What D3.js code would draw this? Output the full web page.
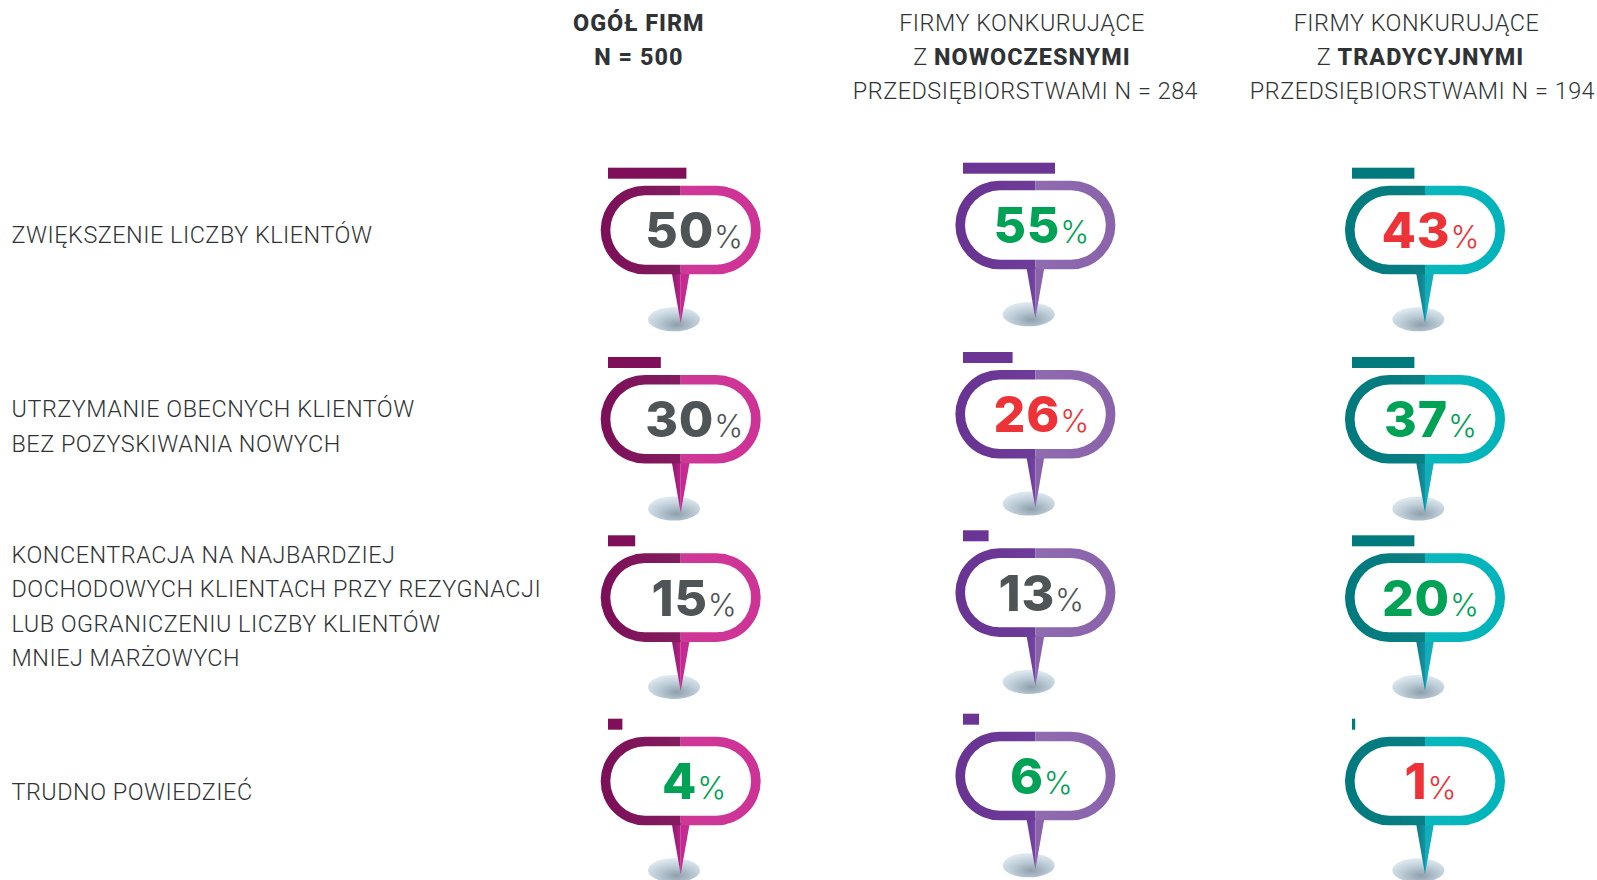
<!DOCTYPE html>
<html lang="pl">
<head>
<meta charset="utf-8">
<title>Ogół firm</title>
<script src="https://cdn.jsdelivr.net/npm/d3@7/dist/d3.min.js"></script>
<style>
html,body{margin:0;padding:0;background:#fff;overflow:hidden}
svg{display:block}
text{font-family:Roboto,Lato,sans-serif}
</style>
</head>
<body>
<script>
// ---------- data ----------
const categories = [
  ["ZWIĘKSZENIE LICZBY KLIENTÓW"],
  ["UTRZYMANIE OBECNYCH KLIENTÓW", "BEZ POZYSKIWANIA NOWYCH"],
  ["KONCENTRACJA NA NAJBARDZIEJ", "DOCHODOWYCH KLIENTACH PRZY REZYGNACJI", "LUB OGRANICZENIU LICZBY KLIENTÓW", "MNIEJ MARŻOWYCH"],
  ["TRUDNO POWIEDZIEĆ"]
];
const headerOgol = [[["OGÓŁ FIRM", 1]], [["N = 500", 1]]];
const headerNowoczesne = [[["FIRMY KONKURUJĄCE", 0]], [["Z ", 0], ["NOWOCZESNYMI", 1]], [["PRZEDSIĘBIORSTWAMI N = 284", 0]]];
const headerTradycyjne = [[["FIRMY KONKURUJĄCE", 0]], [["Z ", 0], ["TRADYCYJNYMI", 1]], [["PRZEDSIĘBIORSTWAMI N = 194", 0]]];

const valuesOgol = [50, 30, 15, 4];
const valuesNowoczesne = [55, 26, 13, 6];
const valuesTradycyjne = [43, 37, 20, 1];

// lengths of the small bars as drawn in the picture (on the pin's 0-100 width)
const barsOgol = [49, 33, 17, 9];
const barsNowoczesne = [57.5, 31, 16, 10];
const barsTradycyjne = [39, 39, 39, 2];

// number highlight class per cell
const toneOgol = ["n", "n", "n", "h"];
const toneNowoczesne = ["h", "l", "n", "h"];
const toneTradycyjne = ["l", "h", "h", "l"];

// ---------- layout and style ----------
const W = 1597, H = 880;
const pinW = 160, pinH = 88.6, ring = 9.6;
const seriesKeys = ["ogol", "now", "trad"];
const rowIdx = [0, 1, 2, 3];

const colLeft = d3.scaleOrdinal(seriesKeys, [600.7, 955.4, 1345]);
const colDy = d3.scaleOrdinal(seriesKeys, [0, -5, 0]);
const textOffset = d3.scaleOrdinal(seriesKeys, [93.5, 86, 85.5]);
const barOffset = d3.scaleOrdinal(seriesKeys, [7.3, 7.6, 7]);
const headerX = d3.scaleOrdinal(seriesKeys, [638.8, 1025.5, 1422.5]);
const headerLineDx = d3.scaleOrdinal(seriesKeys, [[0, 0, 0], [-3.5, -3.5, 0], [-6, -2, 0]]);
const rowTop = d3.scaleOrdinal(rowIdx, [185.7, 375, 553.3, 736.7]);
const barLen = d3.scaleLinear([0, 100], [0, pinW]);
const toneColor = d3.scaleOrdinal(["n", "h", "l"], ["#4f5556", "#00a256", "#ee3338"]);
const labelBase = d3.scaleOrdinal(rowIdx, [243, 417.3, 562.8, 799.8]);

const palette = {
  ogol: {bar:"#7f0f59", l0:"#7c0f58", l1:"#8b2b67", r0:"#d23d98", r1:"#cd3396", s0:"#8a1a66", s1:"#b8208a", s2:"#c52a92"},
  now:  {bar:"#6a3594", l0:"#683392", l1:"#7446a0", r0:"#9473b5", r1:"#8a63ab", s0:"#68389a", s1:"#7545a2", s2:"#8a62ac"},
  trad: {bar:"#007a7d", l0:"#007a7d", l1:"#15838a", r0:"#13bdc0", r1:"#00b3ba", s0:"#0a7a84", s1:"#1590a0", s2:"#10aebb"}
};

const series = [
  {key:"ogol", values:valuesOgol, bars:barsOgol, tones:toneOgol, header:headerOgol},
  {key:"now", values:valuesNowoczesne, bars:barsNowoczesne, tones:toneNowoczesne, header:headerNowoczesne},
  {key:"trad", values:valuesTradycyjne, bars:barsTradycyjne, tones:toneTradycyjne, header:headerTradycyjne}
];

const svg = d3.select("body").append("svg").attr("width", W).attr("height", H).attr("viewBox", `0 0 ${W} ${H}`);
svg.append("rect").attr("width", W).attr("height", H).attr("fill", "#fff");
const defs = svg.append("defs");

function linear(id, x1, y1, x2, y2, stops) {
  const g = defs.append("linearGradient").attr("id", id).attr("x1", x1).attr("y1", y1).attr("x2", x2).attr("y2", y2);
  stops.forEach((c, i) => g.append("stop").attr("offset", i / (stops.length - 1)).attr("stop-color", c));
}
series.forEach(s => {
  const p = palette[s.key];
  linear(s.key + "L", 0, 0, 1, 0, [p.l0, p.l1]);
  linear(s.key + "R", 0, 0, 1, 0, [p.r0, p.r1]);
  linear(s.key + "S", 0, 0, 1, 0, [p.s0, p.s1]);
});
const shadow = defs.append("radialGradient").attr("id", "shadow").attr("cx", .55).attr("cy", .72).attr("r", .66);
shadow.append("stop").attr("offset", 0).attr("stop-color", "#8f9fab");
shadow.append("stop").attr("offset", .5).attr("stop-color", "#b7c7d2");
shadow.append("stop").attr("offset", 1).attr("stop-color", "#dbe6ed");

// stadium outline as a path string
function stadium(x, y, w, h) {
  const r = h / 2, p = d3.path();
  p.moveTo(x + r, y);
  p.lineTo(x + w - r, y);
  p.arc(x + w - r, y + r, r, -Math.PI / 2, Math.PI / 2);
  p.lineTo(x + r, y + h);
  p.arc(x + r, y + r, r, Math.PI / 2, 3 * Math.PI / 2);
  p.closePath();
  return p.toString();
}
const ringPath = stadium(0, 0, pinW, pinH) + stadium(ring, ring, pinW - 2 * ring, pinH - 2 * ring);

defs.append("clipPath").attr("id", "halfL").append("rect").attr("x", -1).attr("y", -1).attr("width", pinW / 2 + 1).attr("height", pinH + 2);
defs.append("clipPath").attr("id", "halfR").append("rect").attr("x", pinW / 2).attr("y", -1).attr("width", pinW / 2 + 1).attr("height", pinH + 2);

const textSize = 23.4, textSpacing = 0.52, boldSpacing = 1.0;

// ---------- row labels ----------
svg.append("g").selectAll("g").data(categories).join("g").each(function(lines, r) {
  const base = labelBase(r);
  d3.select(this).selectAll("text").data(lines).join("text")
    .attr("x", 11.5)
    .attr("y", (d, i) => base + i * 34.4)
    .attr("font-size", textSize)
    .attr("font-weight", 300)
    .attr("letter-spacing", textSpacing)
    .attr("fill", "#303335")
    .text(d => d);
});

// ---------- column headers ----------
series.forEach(s => {
  const g = svg.append("g");
  s.header.forEach((line, i) => {
    const t = g.append("text").attr("x", headerX(s.key) + headerLineDx(s.key)[i]).attr("y", 30.5 + i * 34.4)
      .attr("text-anchor", "middle").attr("font-size", textSize);
    line.forEach(([txt, bold]) => {
      t.append("tspan").attr("font-weight", bold ? 800 : 300).attr("letter-spacing", bold ? boldSpacing : textSpacing).attr("fill", "#303335").text(txt);
    });
  });
});

// ---------- pins ----------
series.forEach(s => {
  const p = palette[s.key];
  const col = svg.append("g");
  rowIdx.forEach(r => {
    const g = col.append("g").attr("transform", `translate(${colLeft(s.key)},${rowTop(r) + colDy(s.key)})`);
    const mid = pinW / 2;
    g.append("rect").attr("x", barOffset(s.key)).attr("y", -18).attr("width", barLen(s.bars[r])).attr("height", 11).attr("fill", p.bar);
    g.append("ellipse").attr("cx", mid - 6.7).attr("cy", 133.6).attr("rx", 26).attr("ry", 12).attr("fill", "url(#shadow)");
    g.append("path").attr("d", `M${mid - 9},${pinH - 2}L${mid},${137.6}L${mid},${pinH - 2}Z`).attr("fill", `url(#${s.key}S)`);
    g.append("path").attr("d", `M${mid},${pinH - 2}L${mid},${137.6}L${mid + 9},${pinH - 2}Z`).attr("fill", p.s2);
    g.append("path").attr("d", ringPath).attr("fill-rule", "evenodd").attr("clip-path", "url(#halfL)").attr("fill", `url(#${s.key}L)`);
    g.append("path").attr("d", ringPath).attr("fill-rule", "evenodd").attr("clip-path", "url(#halfR)").attr("fill", `url(#${s.key}R)`);
    const c = toneColor(s.tones[r]);
    const t = g.append("text").attr("x", textOffset(s.key)).attr("y", 62.3).attr("text-anchor", "middle").attr("fill", c);
    t.append("tspan").attr("font-family", "Inter,Lato,sans-serif").attr("font-weight", 800).attr("font-size", 50).attr("letter-spacing", 0.8).text(s.values[r]);
    t.append("tspan").attr("font-family", "Inter,Lato,sans-serif").attr("font-weight", 300).attr("font-size", 31).text("%");
  });
});
</script>
</body>
</html>
